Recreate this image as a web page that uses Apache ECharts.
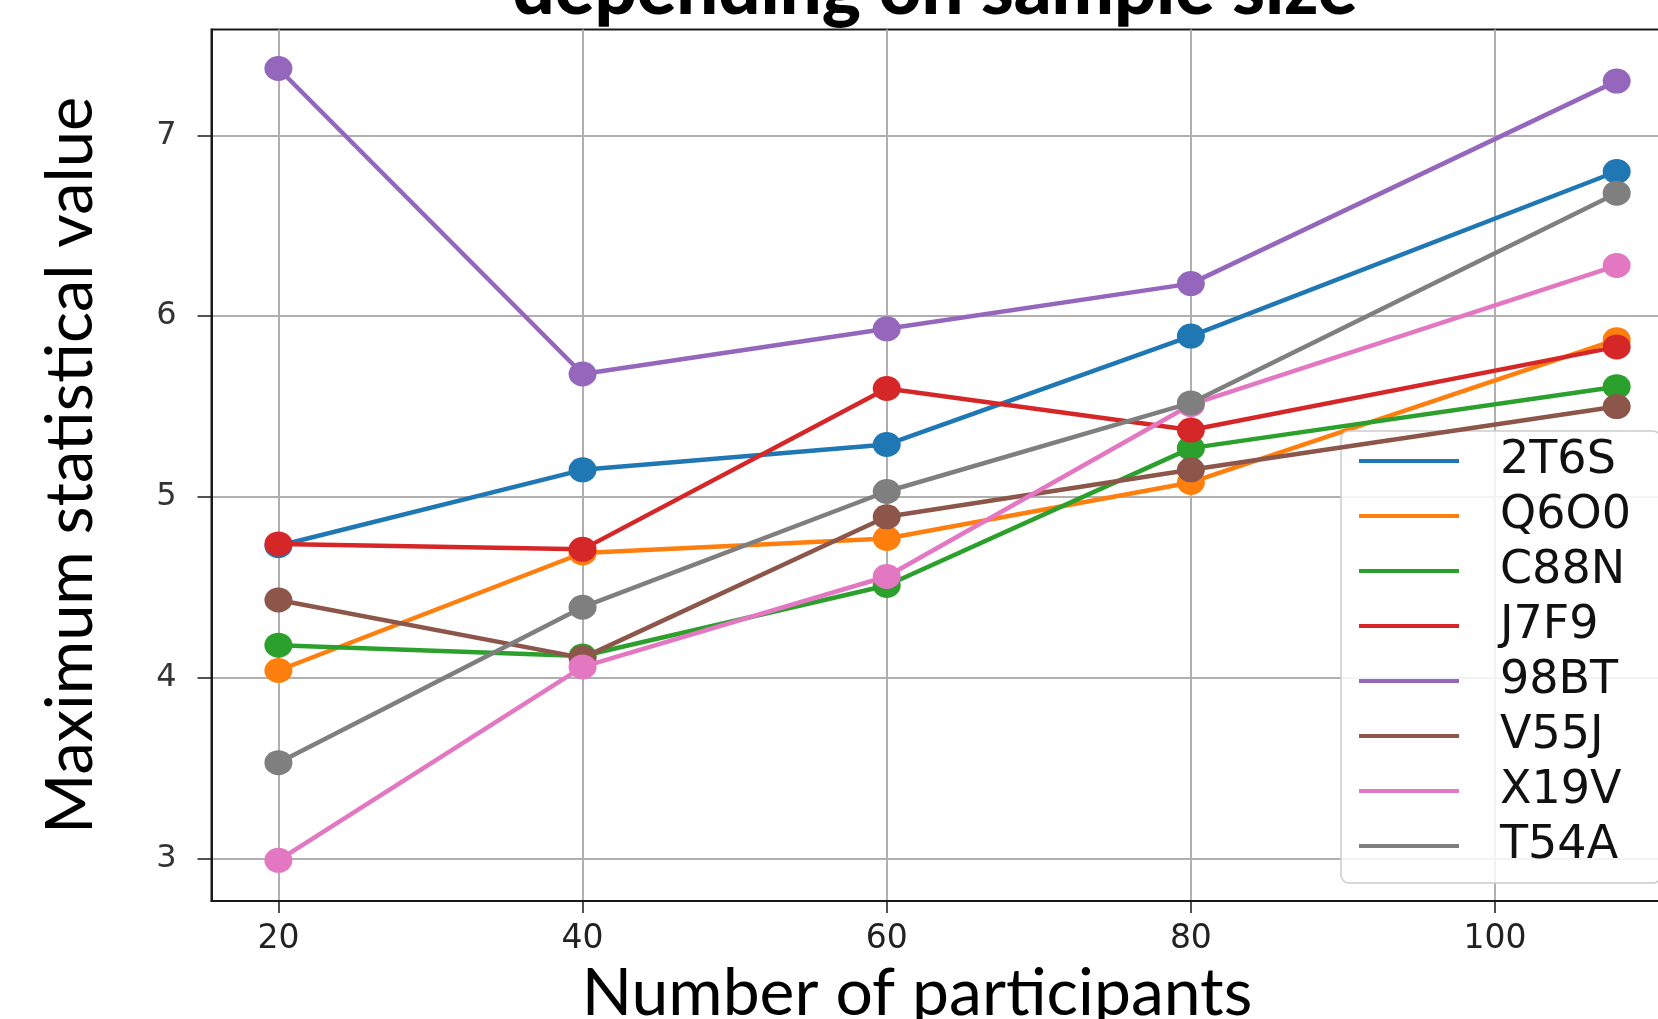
<!DOCTYPE html>
<html>
<head>
<meta charset="utf-8">
<script src="https://cdn.jsdelivr.net/npm/echarts@6/dist/echarts.min.js"></script>
<style>
html,body{margin:0;padding:0;background:#fff;}
#chart{width:1658px;height:1019px;}
</style>
</head>
<body>
<div id="chart"></div>
<script>
const participants = [20, 40, 60, 80, 108];
const xTicks = [20, 40, 60, 80, 100];
const yTicks = [3, 4, 5, 6, 7];
const seriesNames = ['2T6S', 'Q6O0', 'C88N', 'J7F9', '98BT', 'V55J', 'X19V', 'T54A'];
const v_2T6S = [4.73, 5.15, 5.29, 5.89, 6.80];
const v_Q6O0 = [4.04, 4.69, 4.77, 5.08, 5.87];
const v_C88N = [4.18, 4.12, 4.51, 5.27, 5.61];
const v_J7F9 = [4.74, 4.71, 5.60, 5.37, 5.83];
const v_98BT = [7.37, 5.68, 5.93, 6.18, 7.30];
const v_V55J = [4.43, 4.11, 4.89, 5.15, 5.50];
const v_X19V = [2.99, 4.06, 4.56, 5.51, 6.28];
const v_T54A = [3.53, 4.39, 5.03, 5.52, 6.68];
const seriesValues = [v_2T6S, v_Q6O0, v_C88N, v_J7F9, v_98BT, v_V55J, v_X19V, v_T54A];
const colors = ['#1f77b4', '#ff7f0e', '#2ca02c', '#d62728', '#9467bd', '#8c564b', '#e377c2', '#7f7f7f'];

const chart = echarts.init(document.getElementById('chart'), null, {renderer: 'canvas'});

const series = seriesNames.map((name, i) => ({
  name: name,
  type: 'line',
  data: participants.map((x, j) => [x, seriesValues[i][j]]),
  symbol: 'circle',
  symbolSize: [28, 25],
  showSymbol: true,
  lineStyle: {width: 4.5, color: colors[i]},
  itemStyle: {color: colors[i]},
  emphasis: {disabled: true},
  z: 2 + i
}));

chart.setOption({
  animation: false,
  color: colors,
  grid: {
    left: 211.5, top: 29.6, right: -25.6, bottom: 118,
    outerBoundsMode: 'none',
    containLabel: false,
    show: true, borderColor: '#1a1a1a', borderWidth: 2, backgroundColor: 'transparent'
  },
  graphic: [{
    type: 'text',
    x: 935, y: -10,
    style: {
      text: 'depending on sample size',
      align: 'center', verticalAlign: 'middle',
      fontFamily: 'Lato', fontWeight: 900, fontSize: 74, fill: '#000'
    }
  }],
  xAxis: {
    type: 'value',
    min: 15.6, max: 112.4,
    name: 'Number of participants',
    nameLocation: 'middle',
    nameGap: 60,
    nameTextStyle: {fontFamily: 'Lato', fontSize: 66, color: '#000', padding: [0, 61, 0, 0]},
    axisLine: {show: true, onZero: false, lineStyle: {color: '#1a1a1a', width: 2}},
    axisTick: {show: true, length: 12, customValues: xTicks, lineStyle: {color: '#1a1a1a', width: 1.5}},
    axisLabel: {customValues: xTicks, fontFamily: 'DejaVu Sans', fontSize: 33, color: '#222', margin: 22},
    splitLine: {show: true, lineStyle: {color: '#b0b0b0', width: 2}}
  },
  yAxis: {
    type: 'value',
    min: 2.765, max: 7.585,
    name: 'Maximum statistical value',
    nameLocation: 'middle',
    nameGap: 108,
    nameRotate: 90,
    nameTextStyle: {fontFamily: 'Lato', fontSize: 65, color: '#000'},
    axisLine: {show: true, lineStyle: {color: '#1a1a1a', width: 2}},
    axisTick: {show: true, length: 14, customValues: yTicks, lineStyle: {color: '#1a1a1a', width: 1.5}},
    axisLabel: {customValues: yTicks, fontFamily: 'DejaVu Sans', fontSize: 32, color: '#333', margin: 35},
    splitLine: {show: true, lineStyle: {color: '#b0b0b0', width: 2}}
  },
  legend: {
    data: seriesNames,
    orient: 'vertical',
    left: 1341, top: 431,
    padding: [7, 30, 14, 18],
    itemGap: 9,
    itemWidth: 100, itemHeight: 4,
    icon: 'rect',
    backgroundColor: 'rgba(255,255,255,0.85)',
    borderColor: '#cccccc', borderWidth: 1.5, borderRadius: 8,
    textStyle: {fontFamily: 'DejaVu Sans', fontSize: 46, lineHeight: 46, color: '#111', padding: [0, 0, 0, 36]}
  },
  series: series
});
</script>
</body>
</html>
